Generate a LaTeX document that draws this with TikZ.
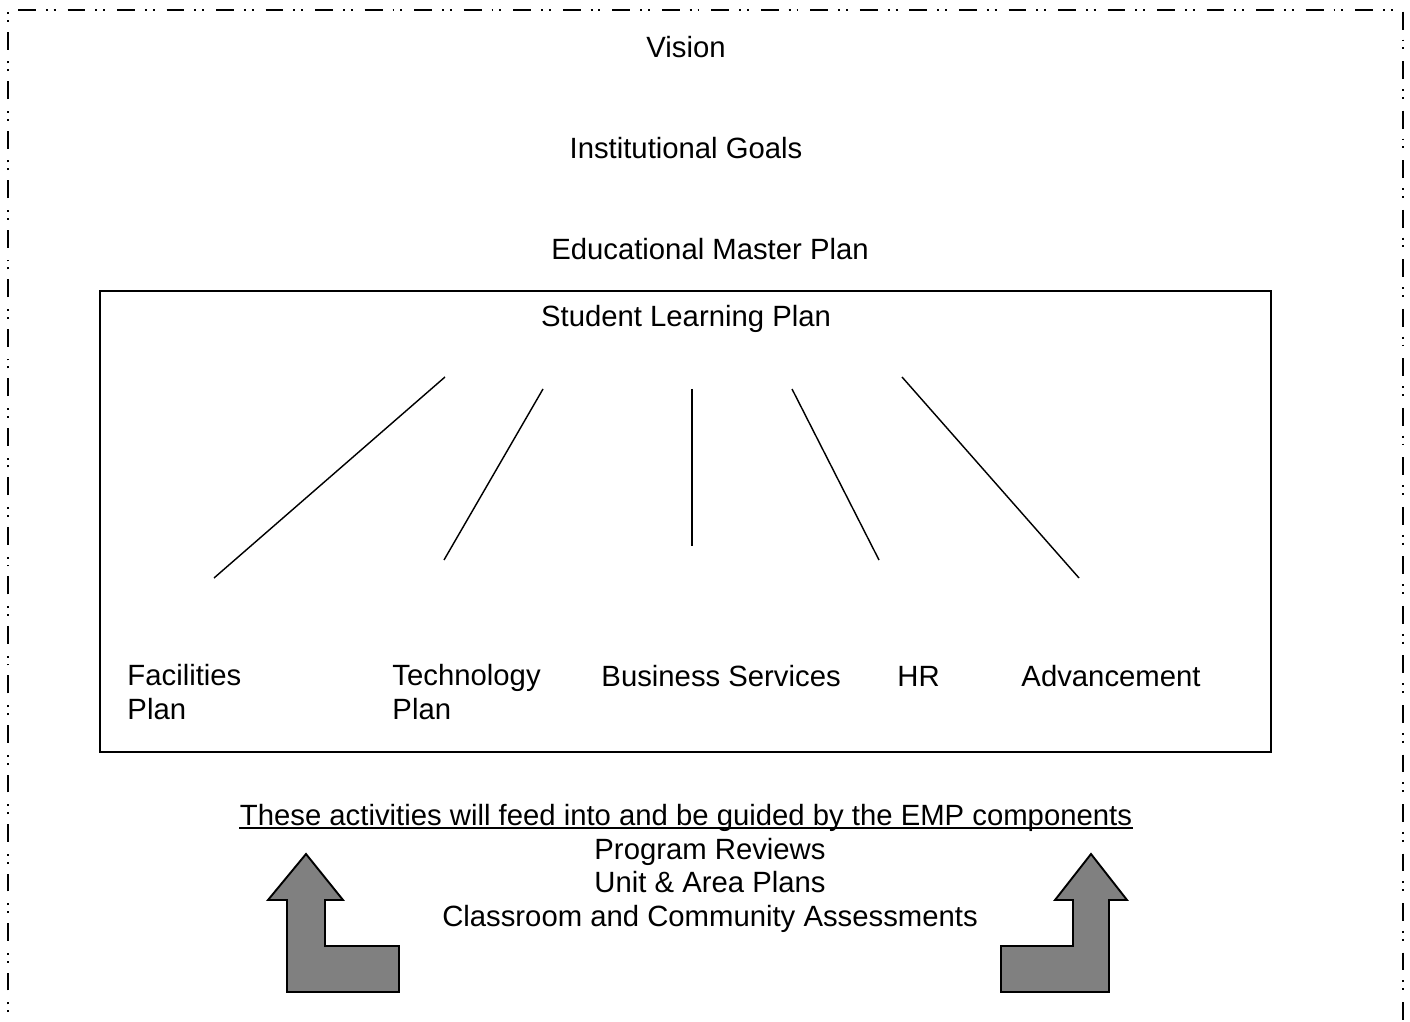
\documentclass[tikz,border=0pt]{standalone}
\usepackage{fontspec}
\setmainfont{Liberation Sans}
\usetikzlibrary{positioning}

\begin{document}
\begin{tikzpicture}[x=0.42pt, y=-0.42pt,
    lbl/.style={inner sep=0pt, font=\fontsize{12.3}{14}\selectfont},
    plan/.style={lbl, anchor=base west, align=left},
    spoke/.style={line width=0.6pt},
    border/.style={line width=0.8pt, dash pattern=on 7.5pt off 4.2pt on 0.8pt off 2.5pt on 0.8pt off 5pt},
    turn/.style={draw=black, line width=0.8pt, fill=gray}
    ]
    \useasboundingbox (0,0) rectangle (1410,1022);
    \clip (0,0) rectangle (1410,1022);

    % outer frame, open at the bottom
    \draw[border] (8,1040) -- (8,10) -- (1403,10) -- (1403,1040);
    \draw[line width=0.6pt] (100,291) rectangle (1271,752);

    \node[lbl, anchor=base] (vision) at (686,58) {Vision};
    \node[lbl, anchor=base] (goals) at (686,159) {Institutional Goals};
    \node[lbl, anchor=base] (emp) at (710,260) {Educational Master Plan};
    \node[lbl, anchor=base] (slp) at (686,327) {Student Learning Plan};

    % two-line labels sit on their last line
    \node[plan] (facilities) at (127,719) {Facilities\\Plan};
    \node[plan] (technology) at (392,719) {Technology\\Plan};
    \node[plan] (business) at (601,686) {Business Services};
    \node[plan] (hr) at (897,686) {HR};
    \node[plan] (advancement) at (1021,686) {Advancement};

    \coordinate (fac-top) at (445,377);  \coordinate (fac-bot) at (214,578);
    \coordinate (tech-top) at (543,389); \coordinate (tech-bot) at (444,560);
    \coordinate (bus-top) at (692,389);  \coordinate (bus-bot) at (692,546);
    \coordinate (hr-top) at (792,389);   \coordinate (hr-bot) at (879,560);
    \coordinate (adv-top) at (902,377);  \coordinate (adv-bot) at (1079,578);
    \foreach \s in {fac, tech, bus, hr, adv}
        \draw[spoke] (\s-top) -- (\s-bot);

    \node[lbl, anchor=base] (feed) at (686,825) {These activities will feed into and be guided by the EMP components};
    \draw[line width=0.8pt] ([yshift=-1.4pt]feed.base west) -- ([yshift=-1.4pt]feed.base east);
    \node[lbl, anchor=base] (reviews) at (710,859) {Program Reviews};
    \node[lbl, anchor=base] (unit) at (710,892) {Unit \& Area Plans};
    \node[lbl, anchor=base] (assess) at (710,926) {Classroom and Community Assessments};

    % turning arrows
    \draw[turn] (306,854) -- (343,900) -- (325,900) -- (325,946) -- (399,946)
        -- (399,992) -- (287,992) -- (287,900) -- (268,900) -- cycle;
    \draw[turn] (1091,854) -- (1127,900) -- (1109,900) -- (1109,992) -- (1001,992)
        -- (1001,946) -- (1073,946) -- (1073,900) -- (1055,900) -- cycle;
\end{tikzpicture}
\end{document}
